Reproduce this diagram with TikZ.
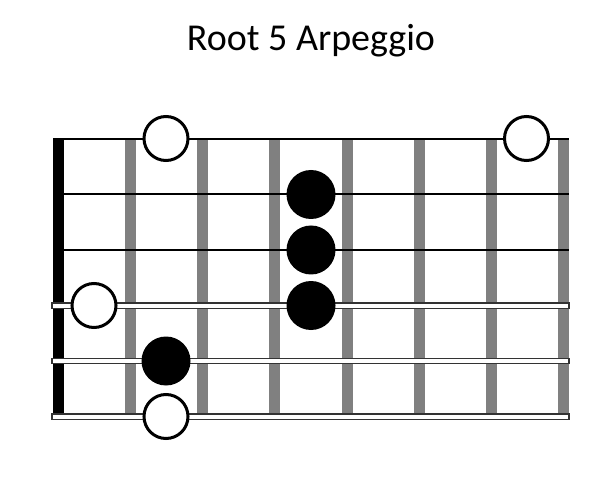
\documentclass[tikz,border=0pt]{standalone}
\usepackage{fontspec}
\setmainfont{Carlito}
\begin{document}
\begin{tikzpicture}[
    x=1pt, y=-1pt,
    fret/.style={line width=11pt, draw=gray},
    plainstring/.style={line width=2pt, draw=black},
    woundstring/.style={line width=1.4pt, draw=black!80, fill=white},
    opendot/.style={circle, draw, line width=3pt, fill=white, inner sep=0pt, minimum size=44pt},
    fulldot/.style={circle, fill=black, inner sep=0pt, minimum size=49pt},
    title/.style={font=\fontsize{38}{44}\selectfont, anchor=base}
]
\useasboundingbox (0,0) rectangle (602,478);

% Titolo
\node[title] (titolo) at (311,51) {Root 5 Arpeggio};

% Capotasto
\fill[black] (53,138) rectangle (64,416);

% Tasti
\draw[fret] (130.5,139) -- (130.5,416.5);
\draw[fret] (202.7,139) -- (202.7,416.5);
\draw[fret] (274.9,139) -- (274.9,416.5);
\draw[fret] (347.1,139) -- (347.1,416.5);
\draw[fret] (419.3,139) -- (419.3,416.5);
\draw[fret] (491.5,139) -- (491.5,416.5);
\draw[fret] (563.7,139) -- (563.7,416.5);

% Corde
\draw[plainstring] (58,139) -- (569,139);
\draw[plainstring] (58,194.5) -- (569,194.5);
\draw[plainstring] (58,250) -- (569,250);
\draw[woundstring] (52,303) rectangle (569,308.2);
\draw[woundstring] (52,358.5) rectangle (569,363.7);
\draw[woundstring] (52,414) rectangle (569,419.2);

% Note
\node[opendot] (s1a) at (166,138.5) {};
\node[opendot] (s1b) at (526.5,138.5) {};
\node[fulldot] (s2) at (311,194.5) {};
\node[fulldot] (s3) at (311,250) {};
\node[opendot] (s4a) at (94,305.5) {};
\node[fulldot] (s4b) at (311,305.5) {};
\node[fulldot] (s5) at (166,361) {};
\node[opendot] (s6) at (166,416.5) {};

\end{tikzpicture}
\end{document}
